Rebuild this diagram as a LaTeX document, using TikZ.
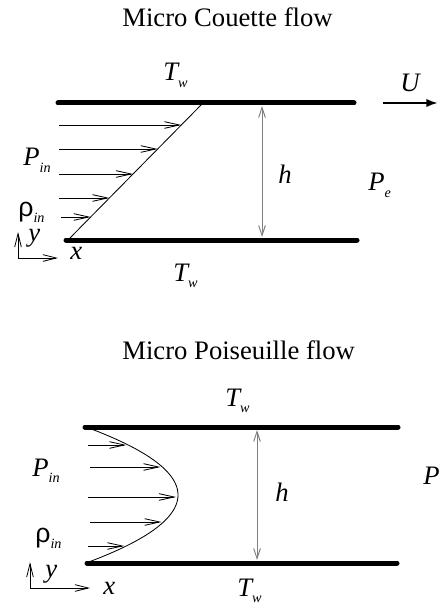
\documentclass[tikz,border=0pt]{standalone}
\usepackage{fontspec}
\setmainfont{Liberation Serif}
\newfontfamily\rhofont{Liberation Sans}
\usetikzlibrary{arrows.meta}

\newcommand{\lowsub}[1]{\raisebox{-0.25em}{\fontsize{8.5}{9}\selectfont\itshape #1}}

\begin{document}
\begin{tikzpicture}[
    x=0.6pt, y=-0.6pt,
    txt/.style={anchor=base west, inner sep=0pt, font=\fontsize{16}{19}\selectfont},
    sym/.style={txt, font=\fontsize{16}{19}\selectfont\itshape},
    wall/.style={line width=3pt, line cap=round},
    profile/.style={line width=0.5pt},
    flowarrow/.style={-{Straight Barb[length=9pt, width=4pt]}, line width=0.5pt},
    gaparrow/.style={{Straight Barb[length=6pt, width=4pt]}-{Straight Barb[length=6pt, width=4pt]}, gray, line width=0.6pt},
    axis/.style={-{Straight Barb[length=8pt, width=4pt]}, line width=0.5pt},
    motion/.style={-{Latex[length=7pt, width=5pt]}, line width=1.3pt},
]
\useasboundingbox (0,0) rectangle (438,603);

% Couette flow
\node[txt] (ctitle) at (122,27) {Micro Couette flow};
\node[sym] (ctopT) at (163,81) {T\lowsub{w}};
\node[sym] (cbotT) at (173,281) {T\lowsub{w}};
\coordinate (ctl) at (58,103);
\coordinate (ctr) at (354,103);
\coordinate (cbl) at (66,240);
\coordinate (cbr) at (357,240);
\draw[wall] (ctl) -- (ctr);
\draw[wall] (cbl) -- (cbr);
\coordinate (cp0) at (68,240);
\coordinate (cp1) at (203,103);
\draw[profile] (cp0) -- (cp1);
\foreach \yy/\xs [count=\i] in {125/59,149/59,174/59,198/59,217/61} {
  \coordinate (cs\i) at (\xs,\yy);
  \coordinate (ce\i) at ({68+(240-\yy)*135/137},\yy);
  \draw[flowarrow] (cs\i) -- (ce\i);
}
\coordinate (ch0) at (262,106);
\coordinate (ch1) at (262,237);
\draw[gaparrow] (ch0) -- (ch1);
\node[sym] (ch) at (278,184) {h};
\node[sym] (cpe) at (368,191) {P\lowsub{e}};
\coordinate (cu0) at (383,103);
\coordinate (cu1) at (438,103);
\draw[motion] (cu0) -- (cu1);
\node[sym] (cu) at (400,92) {U};
\node[sym] (cpin) at (23,166) {P\lowsub{in}};
\node[txt] (crho) at (18,216) {{\rhofont ρ}\lowsub{in}};
\coordinate (co) at (18,258);
\coordinate (coy) at (18,232);
\coordinate (cox) at (58,258);
\draw[axis] (co) -- (coy);
\draw[axis] (co) -- (cox);
\node[sym] (cy) at (28,241) {y};
\node[sym] (cx) at (70,259) {x};

% Poiseuille flow
\node[txt] (ptitle) at (122,359) {Micro Poiseuille flow};
\node[sym] (ptopT) at (225,406) {T\lowsub{w}};
\node[sym] (pbotT) at (237,596) {T\lowsub{w}};
\coordinate (ptl) at (85,427);
\coordinate (ptr) at (398,427);
\coordinate (pbl) at (87,563);
\coordinate (pbr) at (397,563);
\draw[wall] (ptl) -- (ptr);
\draw[wall] (pbl) -- (pbr);
\draw[profile] plot[domain=427:563, samples=60, variable=\t] ({86+92*(1-((\t-495)/68)^2)}, \t);
\foreach \yy/\xs [count=\i] in {445/88,467/90,497/88,522/90,546/88} {
  \coordinate (ps\i) at (\xs,\yy);
  \coordinate (pe\i) at ({84+92*(1-((\yy-495)/68)^2)},\yy);
  \draw[flowarrow] (ps\i) -- (pe\i);
}
\coordinate (ph0) at (257,430);
\coordinate (ph1) at (257,560);
\draw[gaparrow] (ph0) -- (ph1);
\node[sym] (ph) at (275,501) {h};
\node[sym] (ppe) at (423,484) {P\lowsub{e}};
\node[sym] (ppin) at (32,476) {P\lowsub{in}};
\node[txt] (prho) at (35,542) {{\rhofont ρ}\lowsub{in}};
\coordinate (po) at (30,588);
\coordinate (poy) at (30,562);
\coordinate (pox) at (90,588);
\draw[axis] (po) -- (poy);
\draw[axis] (po) -- (pox);
\node[sym] (py) at (45,577) {y};
\node[sym] (px) at (103,594) {x};
\end{tikzpicture}
\end{document}
